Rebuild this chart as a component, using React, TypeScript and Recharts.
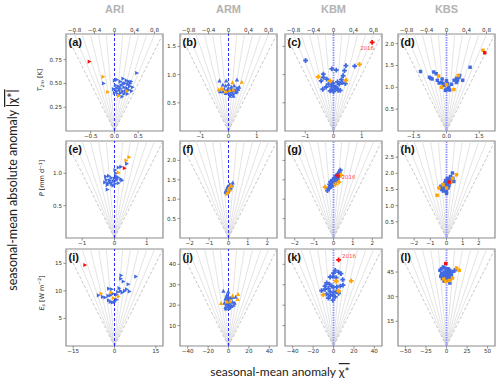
import React from 'react';
import { ScatterChart, Scatter, XAxis, YAxis, ReferenceLine, ReferenceArea } from 'recharts';

type Pt = [number, number];

const sites = ['ARI', 'ARM', 'KBM', 'KBS'];
const tags = ['a', 'b', 'c', 'd', 'e', 'f', 'g', 'h', 'i', 'j', 'k', 'l'];
const yearNote = '2016';

// T2m [K]
const ariT2mBlue: Pt[] = [
  [-0.23, 0.5], [0.47, 0.61], [0.16, 0.36], [0.0, 0.53], [0.05, 0.54], [0.12, 0.52], [0.18, 0.55], [0.25, 0.53],
  [0.3, 0.52], [0.35, 0.52], [0.22, 0.5], [0.28, 0.49], [0.33, 0.5], [0.02, 0.48], [0.08, 0.47], [0.14, 0.48],
  [0.2, 0.46], [0.26, 0.45], [0.32, 0.47], [0.38, 0.46], [-0.02, 0.44], [0.04, 0.42], [0.1, 0.43], [0.17, 0.42],
  [0.23, 0.41], [0.3, 0.43], [0.36, 0.42], [0.0, 0.4], [0.07, 0.39], [0.13, 0.4], [0.2, 0.39], [0.27, 0.39],
  [0.12, 0.45], [0.05, 0.45], [0.24, 0.43], [0.18, 0.5],
];
const ariT2mOrange: Pt[] = [[-0.24, 0.57], [-0.14, 0.41], [0.09, 0.37], [0.26, 0.42]];
const ariT2mRed: Pt[] = [[-0.53, 0.73]];

const armT2mBlue: Pt[] = [
  [-0.32, 0.89], [-0.08, 0.89], [0.3, 0.91], [-0.2, 0.82], [-0.1, 0.8], [0.0, 0.83], [0.1, 0.78], [0.2, 0.8],
  [0.3, 0.76], [0.38, 0.78], [-0.15, 0.74], [-0.05, 0.72], [0.05, 0.74], [0.12, 0.7], [0.22, 0.72], [0.3, 0.7],
  [-0.1, 0.67], [0.0, 0.68], [0.08, 0.65], [0.15, 0.66], [0.25, 0.68], [-0.2, 0.7], [0.05, 0.62], [0.18, 0.62],
  [-0.3, 0.7], [0.35, 0.74], [0.0, 0.76], [0.1, 0.72],
];
const armT2mOrange: Pt[] = [[0.47, 0.87], [0.14, 0.86], [-0.2, 0.74], [-0.35, 0.73], [0.04, 0.72], [0.17, 0.73], [-0.1, 0.7], [-0.25, 0.76]];
const armT2mRed: Pt[] = [];

const kbmT2mBlue: Pt[] = [
  [-0.99, 1.25], [0.75, 1.15], [0.44, 1.16], [-0.06, 1.1], [0.1, 1.08], [-0.36, 1.01], [-0.36, 0.95], [-0.44, 0.89],
  [-0.24, 0.92], [0.39, 1.07], [0.34, 0.98], [0.28, 0.91], [0.14, 0.87], [0.42, 0.84], [-0.18, 0.83], [-0.08, 0.79],
  [0.0, 0.8], [0.08, 0.78], [-0.06, 0.73], [0.04, 0.74], [0.12, 0.76], [-0.38, 0.74], [0.24, 0.72], [-0.12, 0.71],
  [-0.26, 0.78], [0.2, 0.83], [-0.02, 0.85], [0.3, 0.86], [0.16, 0.72], [0.0, 0.7],
];
const kbmT2mOrange: Pt[] = [[0.92, 1.18], [-0.54, 0.96], [-0.12, 0.89], [0.44, 0.9]];
const kbmT2mRed: Pt[] = [[1.37, 1.57]];

const kbsT2mBlue: Pt[] = [
  [1.08, 1.46], [-1.19, 1.36], [-0.58, 1.35], [-0.47, 1.31], [-0.78, 1.23], [-0.66, 1.19], [-0.72, 1.21], [-0.42, 1.16],
  [-0.2, 1.19], [-0.23, 1.11], [0.0, 1.15], [-0.1, 1.04], [0.1, 1.0], [0.0, 0.95], [0.15, 0.94], [0.35, 1.16],
  [0.46, 1.21], [0.57, 1.23], [0.74, 1.16], [0.6, 1.27], [0.5, 1.16], [0.46, 1.11], [0.23, 1.07], [-0.34, 1.1],
  [-0.05, 0.93], [0.07, 0.95], [-0.15, 1.08], [0.05, 1.08],
];
const kbsT2mOrange: Pt[] = [[1.67, 1.85], [-0.36, 1.26], [0.0, 1.06], [-0.23, 1.0], [0.34, 0.95], [0.54, 1.27]];
const kbsT2mRed: Pt[] = [[1.75, 1.79]];

// P [mm d-1]
const ariPBlue: Pt[] = [
  [0.38, 1.15], [0.12, 1.09], [0.02, 1.05], [0.04, 1.0], [-0.18, 0.96], [-0.27, 0.95], [-0.1, 0.93], [0.0, 0.92],
  [0.1, 0.93], [0.2, 0.91], [-0.25, 0.9], [-0.15, 0.89], [-0.04, 0.88], [0.07, 0.9], [-0.3, 0.86], [-0.2, 0.85],
  [0.02, 0.84], [0.12, 0.85], [0.23, 0.89], [-0.22, 0.82], [-0.08, 0.83], [-0.22, 0.75], [-0.04, 0.81], [0.07, 0.95],
  [0.2, 1.1], [-0.12, 0.86],
];
const ariPOrange: Pt[] = [[0.45, 1.25], [0.36, 1.2], [0.12, 1.01]];
const ariPRed: Pt[] = [[0.31, 1.08]];

const armPBlue: Pt[] = [
  [0.22, 1.42], [0.15, 1.38], [0.1, 1.35], [0.05, 1.33], [0.12, 1.3], [0.0, 1.3], [-0.05, 1.28], [0.03, 1.25],
  [-0.1, 1.24], [0.08, 1.27], [-0.02, 1.2], [-0.12, 1.18], [-0.08, 1.15], [0.0, 1.22], [-0.15, 1.2], [0.18, 1.35],
  [-0.05, 1.32], [0.06, 1.38],
];
const armPOrange: Pt[] = [[0.1, 1.33], [0.05, 1.24], [-0.03, 1.18], [-0.1, 1.14], [0.0, 1.26], [0.14, 1.36]];
const armPRed: Pt[] = [];

const kbmPBlue: Pt[] = [
  [-0.31, 1.22], [-0.25, 1.28], [-0.2, 1.3], [-0.15, 1.35], [-0.1, 1.33], [-0.05, 1.38], [0.0, 1.4], [0.05, 1.42],
  [0.1, 1.45], [-0.2, 1.38], [-0.1, 1.42], [0.0, 1.48], [0.08, 1.52], [0.15, 1.55], [0.2, 1.5], [-0.05, 1.5],
  [0.12, 1.6], [0.25, 1.65], [0.3, 1.7], [0.35, 1.75], [0.05, 1.55], [-0.15, 1.45], [0.18, 1.62], [0.28, 1.58],
];
const kbmPOrange: Pt[] = [[-0.43, 1.31], [0.28, 1.44], [0.38, 1.62], [0.1, 1.38]];
const kbmPRed: Pt[] = [[0.21, 1.61]];

const kbsPBlue: Pt[] = [
  [-0.35, 1.6], [0.37, 2.01], [-0.3, 1.5], [-0.2, 1.45], [-0.1, 1.5], [0.0, 1.45], [-0.15, 1.58], [-0.05, 1.62],
  [0.05, 1.6], [0.15, 1.62], [-0.1, 1.7], [0.0, 1.72], [0.1, 1.75], [0.2, 1.8], [0.3, 1.78], [0.4, 1.85],
  [0.05, 1.85], [0.25, 1.9], [-0.05, 1.78], [0.15, 1.68], [0.45, 1.75], [-0.2, 1.65], [0.1, 1.55], [0.0, 1.38],
];
const kbsPOrange: Pt[] = [[-0.58, 1.32], [-0.47, 1.55], [0.62, 1.96], [0.0, 1.55], [0.37, 1.84], [-0.21, 1.65], [0.25, 1.72]];
const kbsPRed: Pt[] = [[0.16, 1.73]];

// Es [W m-2]
const ariEsBlue: Pt[] = [
  [7.75, 12.6], [2.4, 12.8], [2.3, 12.2], [3.2, 11.7], [5.0, 11.2], [5.4, 9.9], [-2.1, 10.4], [-5.8, 9.2],
  [-4.3, 8.9], [-3.4, 8.8], [-2.3, 9.1], [-0.6, 9.5], [0.8, 9.3], [2.2, 10.0], [2.8, 9.7], [3.7, 10.0],
  [4.4, 10.3], [1.7, 10.5], [-1.5, 8.0], [-0.7, 7.9], [0.0, 8.0], [-2.1, 8.3], [0.8, 8.4], [-1.0, 10.3],
  [1.2, 9.8], [-1.5, 9.2],
];
const ariEsOrange: Pt[] = [[-4.9, 9.5], [-1.2, 9.7], [-0.4, 8.7], [1.4, 9.0]];
const ariEsRed: Pt[] = [[-10.7, 14.7]];

const armEsBlue: Pt[] = [
  [-5, 26.9], [-0.3, 26.6], [-1.6, 25], [-2.6, 18.2], [-3, 23], [0, 24], [-1, 22.5], [2, 23.5],
  [-4, 21], [-2, 20.5], [0, 21], [2, 20], [4, 21.5], [6, 21], [-1, 19.5], [1, 19],
  [3, 19.5], [-3, 19], [0.5, 18.5], [5, 20], [-0.5, 23], [1.5, 22], [-2, 24], [4, 23.8], [7, 24],
];
const armEsOrange: Pt[] = [[4, 24.6], [9.4, 25.3], [9, 22.9], [-7.3, 20.9], [-1.6, 21.7], [1.7, 22]];
const armEsRed: Pt[] = [];

const kbmEsBlue: Pt[] = [
  [1.7, 37], [0, 35.7], [5, 36.2], [7.3, 35.4], [-3.3, 33.8], [-0.6, 34.1], [2.7, 33.5], [-6.7, 30.9],
  [-4, 30.3], [-8.3, 29.3], [-1.7, 29.3], [0, 28.7], [3.3, 29.0], [6.7, 29.3], [9.3, 29.8], [-11.7, 27.1],
  [-8.3, 27.8], [-5, 28.2], [-3.3, 26.6], [0, 26.1], [2.7, 26.6], [-6.7, 25.4], [-3.3, 24.5], [-0.6, 25.0],
  [1.7, 24.1], [-5, 23.4], [5, 25.8], [-0.6, 22.5], [9, 32.5],
];
const kbmEsOrange: Pt[] = [[17.4, 31.9], [2.7, 31.7], [5, 26.9], [-10, 25]];
const kbmEsRed: Pt[] = [[5, 42.2]];

const kbsEsBlue: Pt[] = [
  [8.9, 45.4], [10.9, 46.4], [4, 38.3], [-8, 46], [-6, 47], [-4, 48], [-2, 47.5], [0, 46.5],
  [2, 47], [4, 46], [-6, 44], [-3, 45], [0, 44.5], [3, 44], [5, 45], [-7, 42.5],
  [-4, 43], [-1, 42.5], [2, 43], [5, 42], [-5, 41], [-2, 41.5], [1, 41], [4, 40.5],
  [-3, 39.5], [0, 40], [6, 43.5], [-1, 44], [1, 45.5],
];
const kbsEsOrange: Pt[] = [[12.2, 47.5], [15.4, 46], [-3.3, 40.7], [-0.8, 39.3], [7.3, 41.3], [3.3, 39.9]];
const kbsEsRed: Pt[] = [[-0.9, 50.2]];

const blueSets = [
  [ariT2mBlue, armT2mBlue, kbmT2mBlue, kbsT2mBlue],
  [ariPBlue, armPBlue, kbmPBlue, kbsPBlue],
  [ariEsBlue, armEsBlue, kbmEsBlue, kbsEsBlue],
];
const orangeSets = [
  [ariT2mOrange, armT2mOrange, kbmT2mOrange, kbsT2mOrange],
  [ariPOrange, armPOrange, kbmPOrange, kbsPOrange],
  [ariEsOrange, armEsOrange, kbmEsOrange, kbsEsOrange],
];
const redSets = [
  [ariT2mRed, armT2mRed, kbmT2mRed, kbsT2mRed],
  [ariPRed, armPRed, kbmPRed, kbsPRed],
  [ariEsRed, armEsRed, kbmEsRed, kbsEsRed],
];

// axis limits (x is symmetric, y starts at 0)
const limits = [
  [1.02, 1.72, 1.72, 2.22],
  [1.5, 2.5, 2.5, 3.0],
  [17.6, 47.5, 47.5, 59],
];
const xTicks = [
  [[-0.5, 0, 0.5], [-1, 0, 1], [-1, 0, 1], [-1.5, 0, 1.5]],
  [[-1, 0, 1], [-2, -1, 0, 1, 2], [-2, -1, 0, 1, 2], [-2, -1, 0, 1, 2]],
  [[-15, 0, 15], [-40, -20, 0, 20, 40], [-40, -20, 0, 20, 40], [-50, -25, 0, 25, 50]],
];
const yTicks = [
  [[0.25, 0.5, 0.75], [0.5, 1.0, 1.5], [0.5, 1.0, 1.5], [0.5, 1.0, 1.5, 2.0]],
  [[0.5, 1.0], [0.5, 1.0, 1.5, 2.0], [0.5, 1.0, 1.5, 2.0], [0.5, 1.0, 1.5, 2.0, 2.5]],
  [[5, 10, 15], [10, 20, 30, 40], [10, 20, 30, 40], [15, 30, 45]],
];
const xDecimals = [[1, 0, 0, 1], [0, 0, 0, 0], [0, 0, 0, 0]];
const yDecimals = [[2, 1, 1, 1], [1, 1, 1, 1], [0, 0, 0, 0]];
const topTicks = [-0.8, -0.4, 0, 0.4, 0.8];
const fanRatios = [0.17, 0.33, 0.5, 0.67, 0.83];
const edgeRatio = 1;

// layout
const COL_X = [66, 180, 285, 398];
const ROW_Y = [34, 141, 249];
const PW = 97;
const PH = 97;
const YW = 30;
const TH = 12;
const BH = 14;
const RM = 4;

const BLUE = '#4169e1';
const ORANGE = '#ffa500';
const RED = '#ff0d0d';
const markerKinds = ['right', 'up', 'plus', 'square'];
const noteOffsets: Record<number, { dx: number; dy: number; anchor: string }> = {
  0: { dx: -5, dy: 7.5, anchor: 'middle' },
  1: { dx: 4, dy: 3.5, anchor: 'start' },
  2: { dx: 3.5, dy: -1.5, anchor: 'start' },
};

const tickFont = { fontSize: 5.6, fill: '#333', fontFamily: 'DejaVu Sans' };

function fmt(v: number, d: number) {
  const s = Math.abs(v).toFixed(d);
  return v < 0 ? `\u2212${s}` : s;
}

function Marker({ cx, cy, kind, fill, note }: any) {
  if (cx == null || cy == null) return null;
  let el;
  if (kind === 'right') {
    el = <polygon points={`${cx + 2.2},${cy} ${cx - 1.7},${cy - 2.1} ${cx - 1.7},${cy + 2.1}`} fill={fill} />;
  } else if (kind === 'up') {
    el = <polygon points={`${cx},${cy - 2.3} ${cx - 2.1},${cy + 1.7} ${cx + 2.1},${cy + 1.7}`} fill={fill} />;
  } else if (kind === 'plus') {
    const a = 2.4, b = 0.9;
    const pts = [[-b, -a], [b, -a], [b, -b], [a, -b], [a, b], [b, b], [b, a], [-b, a], [-b, b], [-a, b], [-a, -b], [-b, -b]]
      .map(([x, y]) => `${cx + x},${cy + y}`).join(' ');
    el = <polygon points={pts} fill={fill} />;
  } else {
    el = <rect x={cx - 1.75} y={cy - 1.75} width={3.5} height={3.5} rx={0.6} fill={fill} />;
  }
  return (
    <g>
      {el}
      {note && (
        <text x={cx + note.dx} y={cy + note.dy} textAnchor={note.anchor} fontSize={5.5} fill="#ff4a4a" fontFamily="DejaVu Sans">
          {yearNote}
        </text>
      )}
    </g>
  );
}

const toXY = (arr: Pt[]) => arr.map(([x, y]) => ({ x, y }));

function Panel({ row, col }: { row: number; col: number }) {
  const m = limits[row][col];
  const kind = markerKinds[col];
  const note = col === 2 ? noteOffsets[row] : null;
  const lightLine = col >= 2;
  return (
    <div style={{ position: 'absolute', left: COL_X[col] - YW, top: ROW_Y[row] - TH }}>
      <ScatterChart
        width={YW + PW + RM}
        height={TH + PH + BH}
        margin={{ top: row === 0 ? 0 : TH, right: RM, bottom: 0, left: 0 }}
      >
        {row === 0 && (
          <XAxis
            xAxisId="t"
            orientation="top"
            type="number"
            dataKey="x"
            domain={[-0.97, 0.97]}
            allowDataOverflow
            ticks={topTicks}
            interval={0}
            tickFormatter={(v: number) => (v === 0 ? '0' : fmt(v, 1))}
            height={TH}
            tick={tickFont}
            tickSize={2}
            tickMargin={0.5}
            axisLine={false}
            tickLine={{ stroke: '#777', strokeWidth: 0.8 }}
          />
        )}
        <XAxis
          xAxisId="b"
          type="number"
          dataKey="x"
          domain={[-m, m]}
          allowDataOverflow
          ticks={xTicks[row][col]}
          interval={0}
          tickFormatter={(v: number) => fmt(v, xDecimals[row][col])}
          height={BH}
          tick={tickFont}
          tickSize={2.5}
          tickMargin={1}
          axisLine={false}
          tickLine={{ stroke: '#777', strokeWidth: 0.8 }}
        />
        <YAxis
          type="number"
          dataKey="y"
          domain={[0, m]}
          allowDataOverflow
          ticks={yTicks[row][col]}
          interval={0}
          tickFormatter={(v: number) => (col === 2 ? '' : fmt(v, yDecimals[row][col]))}
          width={YW}
          tick={tickFont}
          tickSize={2.5}
          tickMargin={1.5}
          axisLine={false}
          tickLine={{ stroke: '#777', strokeWidth: 0.8 }}
        />
        {fanRatios.map((r) => [-1, 1].map((s) => (
          <ReferenceLine
            key={`${r}${s}`}
            xAxisId="b"
            segment={[{ x: 0, y: 0 }, { x: s * r * m, y: m }]}
            stroke="#d9d9d9"
            strokeWidth={0.7}
          />
        )))}
        {[-1, 1].map((s) => (
          <ReferenceLine
            key={`e${s}`}
            xAxisId="b"
            segment={[{ x: 0, y: 0 }, { x: s * edgeRatio * m, y: m }]}
            stroke="#b8b8b8"
            strokeWidth={0.8}
            strokeDasharray="3 2"
          />
        ))}
        <ReferenceLine
          xAxisId="b"
          x={0}
          stroke={lightLine ? '#8d8dff' : '#2b2bff'}
          strokeWidth={lightLine ? 1.8 : 1}
          strokeDasharray={lightLine ? '1.5 1' : '3 2'}
        />
        <Scatter
          xAxisId="b"
          data={toXY(blueSets[row][col])}
          isAnimationActive={false}
          shape={(p: any) => <Marker cx={p.cx} cy={p.cy} kind={kind} fill={BLUE} />}
        />
        <Scatter
          xAxisId="b"
          data={toXY(orangeSets[row][col])}
          isAnimationActive={false}
          shape={(p: any) => <Marker cx={p.cx} cy={p.cy} kind={kind} fill={ORANGE} />}
        />
        <Scatter
          xAxisId="b"
          data={toXY(redSets[row][col])}
          isAnimationActive={false}
          shape={(p: any) => <Marker cx={p.cx} cy={p.cy} kind={kind} fill={RED} note={note} />}
        />
        <ReferenceArea xAxisId="b" x1={-m} x2={m} y1={0} y2={m} fill="none" stroke="#8c8c8c" strokeWidth={1.2} />
      </ScatterChart>
    </div>
  );
}

function RowLabel({ x, y, children }: { x: number; y: number; children: React.ReactNode }) {
  return (
    <text transform={`translate(${x},${y}) rotate(-90)`} textAnchor="middle" fontSize={6.5} fill="#222" fontFamily="DejaVu Sans">
      {children}
    </text>
  );
}

export default function App() {
  return (
    <div style={{ position: 'absolute', left: 0, top: 0, width: 500, height: 383, background: '#fff' }}>
      {[0, 1, 2].map((r) => [0, 1, 2, 3].map((c) => <Panel key={`${r}-${c}`} row={r} col={c} />))}
      <svg width={500} height={383} style={{ position: 'absolute', left: 0, top: 0, pointerEvents: 'none' }}>
        {sites.map((s, i) => (
          <text key={s} x={COL_X[i] + PW / 2} y={13} textAnchor="middle" fontSize={11} fontWeight="bold" fill="#b3b3b3" fontFamily="Liberation Sans">
            {s}
          </text>
        ))}
        {tags.map((t, i) => (
          <text key={t} x={COL_X[i % 4] + 2.5} y={ROW_Y[Math.floor(i / 4)] + 12} fontSize={11} fontWeight="bold" fill="#111" fontFamily="Liberation Sans">
            ({t})
          </text>
        ))}
        <RowLabel x={42} y={80}>
          <tspan fontStyle="italic">T</tspan>
          <tspan fontSize={4.5} dy={1.5} fontStyle="italic">2m</tspan>
          <tspan dy={-1.5}> [K]</tspan>
        </RowLabel>
        <RowLabel x={44} y={178}>
          <tspan fontStyle="italic">P</tspan>
          <tspan> [mm d</tspan>
          <tspan fontSize={4.5} dy={-2.5}>−1</tspan>
          <tspan dy={2.5}>]</tspan>
        </RowLabel>
        <RowLabel x={43.5} y={293}>
          <tspan fontStyle="italic">E</tspan>
          <tspan fontSize={4.5} dy={1.5} fontStyle="italic">s</tspan>
          <tspan dy={-1.5}> [W m</tspan>
          <tspan fontSize={4.5} dy={-2.5}>−2</tspan>
          <tspan dy={2.5}>]</tspan>
        </RowLabel>
        <text transform="translate(17,190) rotate(-90)" textAnchor="middle" fontSize={12.5} fill="#222" fontFamily="Lato">
          seasonal-mean absolute anomaly <tspan style={{ textDecoration: 'overline' }}>|χ*|</tspan>
        </text>
        <text x={280} y={376} textAnchor="middle" fontSize={12} fill="#222" fontFamily="Lato">
          seasonal-mean anomaly <tspan style={{ textDecoration: 'overline' }}>χ*</tspan>
        </text>
      </svg>
    </div>
  );
}
